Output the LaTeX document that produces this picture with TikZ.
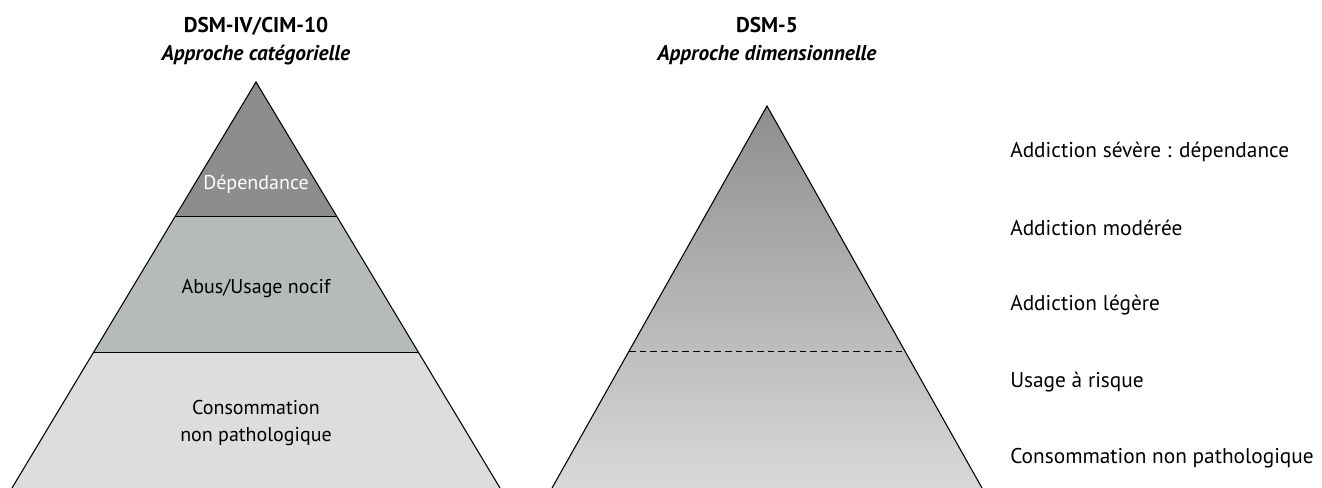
\documentclass[tikz,border=0pt]{standalone}
\usepackage{fontspec}
\setmainfont{PT Sans}
\usetikzlibrary{positioning}

\definecolor{dep}{HTML}{8D8D8D}
\definecolor{abus}{HTML}{B6BBBA}
\definecolor{conso}{HTML}{DDDDDD}
\definecolor{topgray}{HTML}{8E8E8E}
\definecolor{basegray}{HTML}{D9D9D9}

\tikzset{
  titre/.style={align=center, font=\fontsize{16}{21}\selectfont, inner sep=0pt},
  niveau/.style={align=center, font=\fontsize{15}{20}\selectfont, inner sep=0pt},
  palier/.style={anchor=west, font=\fontsize{16}{19}\selectfont, inner sep=0pt},
  bord/.style={draw=black, line width=0.8pt},
}

\begin{document}
\begin{tikzpicture}[x=0.75pt, y=-0.75pt]
   \useasboundingbox (0,0) rectangle (1322,488);

   % pyramide categorielle
   \coordinate (a1) at (256,82);
   \coordinate (g1) at (12,488);
   \coordinate (d1) at (500,488);
   \fill[conso] (a1) -- (g1) -- (d1) -- cycle;
   \fill[abus] (a1) -- (94,352.7) -- (418,352.7) -- cycle;
   \fill[dep] (a1) -- (176,216.7) -- (336,216.7) -- cycle;
   \draw[bord] (g1) -- (a1) -- (d1);
   \draw[bord] (176,216.7) -- (336,216.7);
   \draw[bord] (94,352.7) -- (418,352.7);

   % pyramide dimensionnelle
   \coordinate (a2) at (767,106);
   \coordinate (g2) at (552,488);
   \coordinate (d2) at (982,488);
   \shade[top color=topgray, bottom color=basegray] (a2) -- (g2) -- (d2) -- cycle;
   \draw[bord] (g2) -- (a2) -- (d2);
   \draw[black, line width=0.7pt, dash pattern=on 5pt off 3pt] (629,351.7) -- (906,351.7);

   \node[titre] (cat) at (256,41) {\textbf{DSM-IV/CIM-10}\\\textbf{\textit{Approche catégorielle}}};
   \node[titre] (dim) at (767,41) {\textbf{DSM-5}\\\textbf{\textit{Approche dimensionnelle}}};

   \node[niveau, text=white] (dependance) at (256,184) {Dépendance};
   \node[niveau] (abus) at (256,289) {Abus/Usage nocif};
   \node[niveau] (conso) at (256,423) {Consommation\\non pathologique};

   \node[palier] (severe) at (1010,152) {Addiction sévère : dépendance};
   \node[palier] (moderee) at (1010,228) {Addiction modérée};
   \node[palier] (legere) at (1010,305) {Addiction légère};
   \node[palier] (risque) at (1010,382) {Usage à risque};
   \node[palier] (nonpath) at (1010,458) {Consommation non pathologique};
\end{tikzpicture}
\end{document}
